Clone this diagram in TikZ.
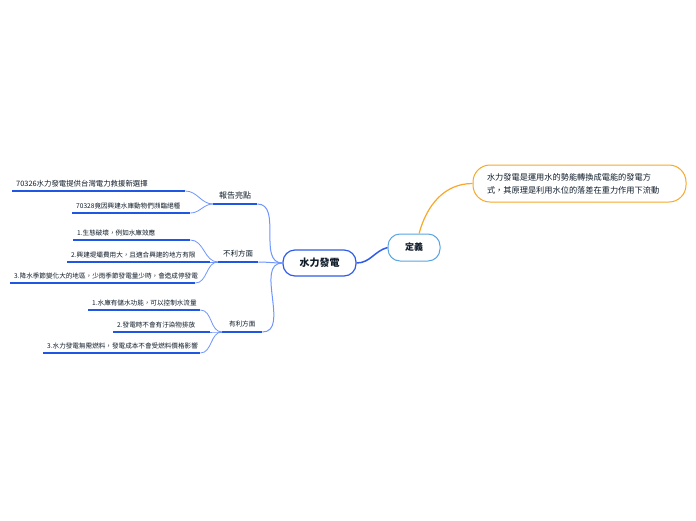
\documentclass[tikz,border=0pt]{standalone}
\usepackage{fontspec}
\setmainfont{Noto Sans CJK TC}
\usetikzlibrary{arrows.meta,positioning,calc}

\definecolor{rootblue}{HTML}{2F5BEA}
\definecolor{linkblue}{HTML}{6F96FF}
\definecolor{ulblue}{HTML}{1F56E4}
\definecolor{defblue}{HTML}{5AA5E0}
\definecolor{deforange}{HTML}{F7A928}
\definecolor{inkdark}{HTML}{0F1C2A}

\begin{document}
\begin{tikzpicture}[
  x=1pt, y=-1pt,
  text=inkdark,
  root/.style={
    draw=rootblue,
    line width=1.2pt,
    fill=white,
    rounded corners=12pt,
    minimum width=73pt,
    minimum height=26pt,
    font=\fontsize{10}{12}\selectfont\bfseries
  },
  topic/.style={
    draw=defblue,
    line width=1pt,
    fill=white,
    rounded corners=12pt,
    minimum width=52pt,
    minimum height=27pt,
    font=\fontsize{9}{11}\selectfont\bfseries
  },
  note/.style={
    draw=deforange,
    line width=1pt,
    rounded corners=17pt,
    minimum height=37pt,
    text width=185pt,
    inner xsep=14pt,
    align=left,
    font=\fontsize{8.2}{13}\selectfont
  },
  branch/.style={
    anchor=south west,
    inner xsep=0pt,
    inner ysep=5pt,
    font=\fontsize{7.5}{9}\selectfont
  },
  leaf/.style={
    anchor=south west,
    inner xsep=4pt,
    inner ysep=4pt,
    align=left,
    font=\fontsize{6.6}{8}\selectfont
  },
  uline/.style={ulblue,line width=1.6pt},
  link/.style={linkblue,line width=0.8pt},
  trunk/.style={linkblue,line width=1pt}
]
\fill[white] (0,0) rectangle (696,520);
\useasboundingbox (0,0) rectangle (696,520);

% centre and definition
\node[root] (hydro) at (319.5,263) {水力發電};
\node[topic] (defn) at (414,247.5) {定義};
\node[note] (defnote) at (579.5,183.5) {水力發電是運用水的勢能轉換成電能的發電方\\式，其原理是利用水位的落差在重力作用下流動};

% branches
\node[branch,minimum width=44pt,font=\fontsize{8}{10}\selectfont] (report) at (213,204) {報告亮點};
\node[branch,minimum width=40pt] (cons) at (218,262) {不利方面};
\node[branch,minimum width=40pt,font=\fontsize{6.6}{8}\selectfont] (pros) at (222,332) {有利方面};

% leaves of 報告亮點
\node[leaf,text width=165pt,font=\fontsize{7.4}{9}\selectfont] (rep1) at (12,191) {70326水力發電提供台灣電力救援新選擇};
\node[leaf,text width=110pt] (rep2) at (72,213) {70328竟因興建水庫動物們瀕臨絕種};

% leaves of 不利方面
\node[leaf,text width=109pt] (con1) at (73,240) {1.生態破壞，例如水庫效應};
\node[leaf,text width=135pt] (con2) at (67,262) {2.興建堤壩費用大，且適合興建的地方有限};
\node[leaf,text width=177pt] (con3) at (10,283) {3.降水季節變化大的地區，少雨季節發電量少時，會造成停發電};

% leaves of 有利方面
\node[leaf,text width=104pt] (pro1) at (88,310) {1.水庫有儲水功能，可以控制水流量};
\node[leaf,text width=89pt] (pro2) at (113,332) {2.發電時不會有汙染物排放};
\node[leaf,text width=149pt] (pro3) at (43,353) {3.水力發電無需燃料，發電成本不會受燃料價格影響};

% underlines
\foreach \n in {report,cons,pros,rep1,rep2,con1,con2,con3,pro1,pro2,pro3}
  \draw[uline] (\n.south west) -- (\n.south east);

% connectors
\draw[deforange,line width=1.2pt] (defn.70) to[out=75,in=180] (defnote.west);
\draw[rootblue,line width=1.5pt] (hydro.east) to[out=0,in=195] (defn.west);
\draw[trunk] (report.south east) to[out=0,in=180] (hydro.west);
\draw[trunk] (cons.south east) to[out=0,in=180] (hydro.west);
\draw[trunk] (pros.south east) to[out=0,in=180] (hydro.west);
\draw[link] (rep1.south east) to[out=0,in=180] (report.south west);
\draw[link] (rep2.south east) to[out=0,in=180] (report.south west);
\draw[link] (con1.south east) to[out=0,in=180] (cons.south west);
\draw[link] (con2.south east) to[out=0,in=180] (cons.south west);
\draw[link] (con3.south east) to[out=0,in=180] (cons.south west);
\draw[link] (pro1.south east) to[out=0,in=180] (pros.south west);
\draw[link] (pro2.south east) to[out=0,in=180] (pros.south west);
\draw[link] (pro3.south east) to[out=0,in=180] (pros.south west);
\end{tikzpicture}
\end{document}
